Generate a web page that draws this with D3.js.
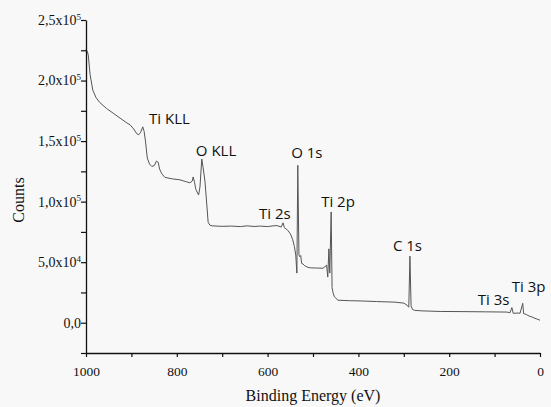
<!DOCTYPE html>
<html>
<head>
<meta charset="utf-8">
<script src="https://cdn.jsdelivr.net/npm/d3@7"></script>
<style>
  body { margin: 0; background: #f8f8f8; }
  svg { display: block; }
</style>
</head>
<body>
<div id="chart"></div>
<script>
// survey spectrum: binding energy (eV) and counts
const energy = [1000, 997, 995, 991, 985, 978, 970, 955, 940, 925, 910, 903, 895, 888, 884, 880, 875, 872, 869, 865,
  860, 855, 849, 845, 841, 838, 833, 826, 810, 793, 780, 771, 766, 764, 761, 758, 752, 749, 745, 742,
  738, 734, 731, 727, 722, 700, 680, 660, 645, 630, 616, 600, 588, 579, 570, 566, 563, 556, 550, 545,
  541, 538, 535.5, 533.5, 531, 529, 527, 525, 522, 518, 513, 506, 495, 478, 470, 467.5, 465, 463, 460, 458,
  456, 453, 445, 420, 396, 360, 320, 300, 293, 289, 286.5, 284, 281, 276, 260, 220, 176, 120, 73, 66,
  62, 59, 48, 44, 38, 36, 30, 24, 18, 11, 5, 0];
const counts = [225600, 224000, 221000, 205000, 192000, 186000, 182000, 177000, 173000, 169000, 165000, 163500, 160000, 156000, 155200, 157000, 161800, 158000, 150000, 136000,
  131000, 129000, 130000, 133500, 132500, 127000, 123000, 120000, 118800, 118000, 116500, 115500, 117000, 120400, 116000, 110000, 105500, 112000, 135200, 128000,
  117000, 98000, 83000, 80500, 80000, 79600, 79800, 79400, 80000, 79500, 79800, 79400, 80000, 80200, 79000, 82500, 78500, 76500, 73500, 69000,
  63000, 56000, 41000, 130000, 56000, 54500, 55500, 49000, 48500, 47000, 46000, 45300, 45200, 45000, 47500, 37700, 61000, 41000, 91500, 29000,
  25000, 21500, 18600, 18200, 18000, 17500, 17000, 16200, 14500, 12800, 55000, 14000, 11000, 10200, 9800, 9300, 9200, 9000, 8800, 8300,
  12500, 7800, 8000, 7800, 16000, 7500, 6800, 5500, 4800, 3600, 2800, 2100];

// peak labels, placed in data units (start of text, baseline)
const peakNames = ["Ti KLL", "O KLL", "O 1s", "Ti 2s", "Ti 2p", "C 1s", "Ti 3s", "Ti 3p"];
const peakX = [861, 758, 548, 619, 482, 324, 137, 62];
const peakY = [164300, 138100, 136400, 85700, 95400, 59200, 14500, 25200];

const xTicks = [1000, 800, 600, 400, 200, 0];
const yTicks = [0, 50000, 100000, 150000, 200000, 250000];
const yTickBase = ["0,0", "5,0x10", "1,0x10", "1,5x10", "2,0x10", "2,5x10"];
const yTickExp = ["", "4", "5", "5", "5", "5"];

const W = 551, H = 407;
const margin = {top: 20, right: 11, bottom: 54, left: 86};

const svg = d3.select("#chart").append("svg")
  .attr("width", W)
  .attr("height", H);

const x = d3.scaleLinear().domain([1000, 0]).range([margin.left, W - margin.right]);
const y = d3.scaleLinear().domain([-25000, 250000]).range([H - margin.bottom, margin.top]);

const data = energy.map((e, i) => [e, counts[i]]);

svg.append("path")
  .datum(data)
  .attr("fill", "none")
  .attr("stroke", "#555")
  .attr("stroke-width", 1)
  .attr("stroke-linejoin", "round")
  .attr("d", d3.line().x(d => x(d[0])).y(d => y(d[1])));

// x axis
const xAxis = svg.append("g")
  .attr("transform", "translate(0," + (H - margin.bottom) + ")")
  .call(d3.axisBottom(x).tickValues(d3.range(0, 1001, 100)).tickSize(4).tickSizeOuter(0)
    .tickFormat(d => xTicks.includes(d) ? d : ""));
xAxis.select(".domain").attr("stroke", "#111").attr("stroke-width", 1.3);
xAxis.selectAll(".tick line").attr("stroke", "#111").attr("stroke-width", 1.2);
xAxis.selectAll(".tick text")
  .attr("fill", "#111")
  .style("font-family", "'Liberation Serif', serif")
  .style("font-size", "13.5px")
  .attr("y", 13);

// y axis
const yAxis = svg.append("g")
  .attr("transform", "translate(" + margin.left + ",0)")
  .call(d3.axisLeft(y).tickValues(d3.range(-25000, 250001, 25000)).tickSize(5).tickSizeOuter(0)
    .tickFormat(""));
yAxis.select(".domain").attr("stroke", "#111").attr("stroke-width", 1.3);
yAxis.selectAll(".tick line").attr("stroke", "#111").attr("stroke-width", 1.2);

const yLab = svg.append("g")
  .style("font-family", "'Liberation Serif', serif")
  .attr("fill", "#111");
yTicks.forEach((v, i) => {
  const t = yLab.append("text")
    .attr("x", margin.left - 5)
    .attr("y", y(v))
    .attr("dy", "0.35em")
    .attr("text-anchor", "end")
    .style("font-size", "14px");
  t.append("tspan").text(yTickBase[i]);
  if (yTickExp[i]) {
    t.append("tspan")
      .attr("dy", "-0.6em")
      .style("font-size", "9px")
      .text(yTickExp[i]);
  }
});

// axis titles
svg.append("text")
  .attr("x", (margin.left + W - margin.right) / 2)
  .attr("y", 401)
  .attr("text-anchor", "middle")
  .style("font-family", "'Liberation Serif', serif")
  .style("font-size", "16px")
  .attr("fill", "#111")
  .text("Binding Energy (eV)");

svg.append("text")
  .attr("transform", "translate(24,200) rotate(-90)")
  .attr("text-anchor", "middle")
  .style("font-family", "'Liberation Serif', serif")
  .style("font-size", "16px")
  .attr("fill", "#111")
  .text("Counts");

// peak labels
svg.append("g")
  .selectAll("text")
  .data(peakNames)
  .join("text")
  .attr("x", (d, i) => x(peakX[i]))
  .attr("y", (d, i) => y(peakY[i]))
  .style("font-family", "'Open Sans', sans-serif")
  .style("font-size", "15px")
  .attr("fill", "#111")
  .text(d => d);
</script>
</body>
</html>
